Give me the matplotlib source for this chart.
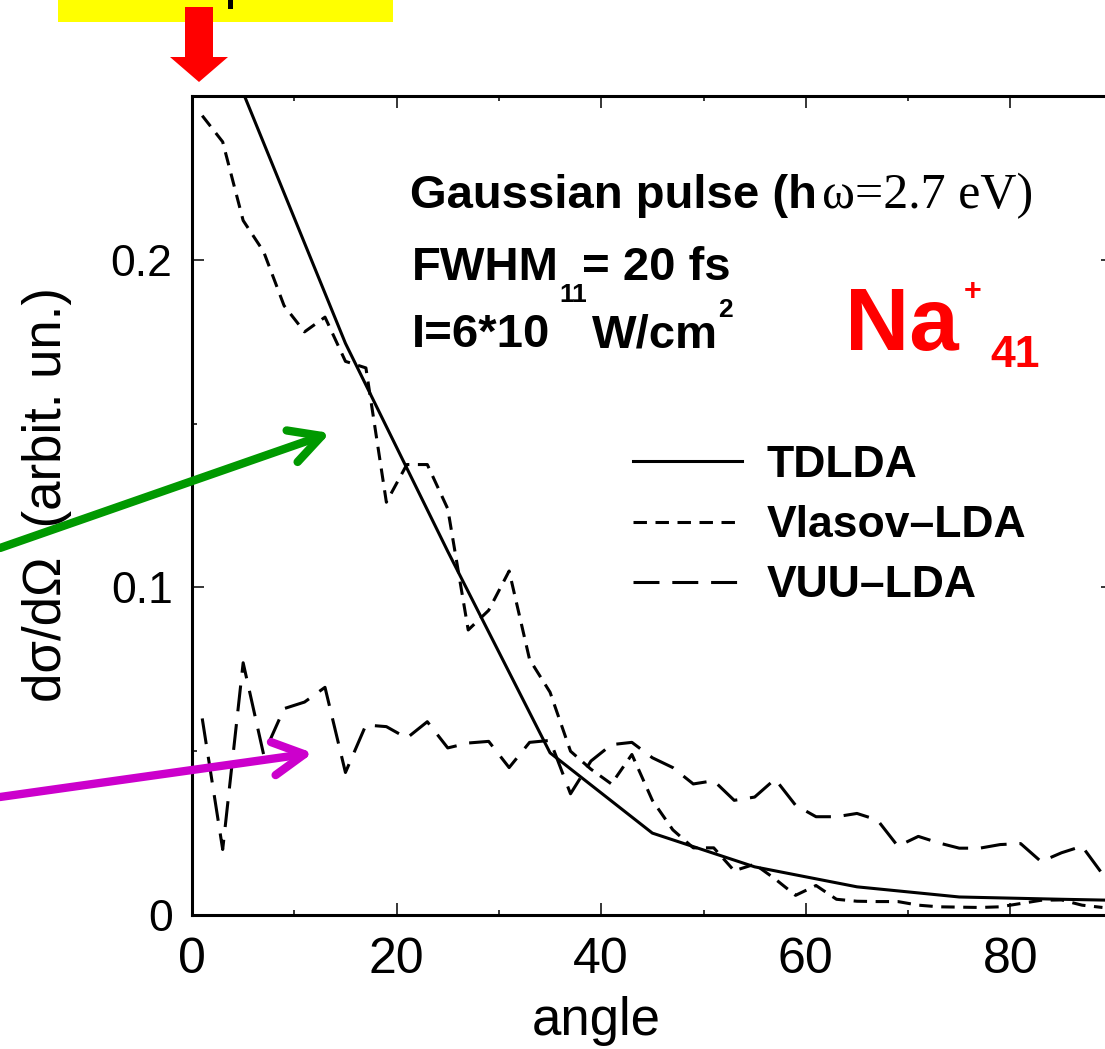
import matplotlib
matplotlib.use("Agg")
import matplotlib.pyplot as plt
from matplotlib.patches import Polygon, Rectangle, FancyArrowPatch
from matplotlib.ticker import MultipleLocator, FixedLocator

W, H = 1105, 1049

# angular distributions of emitted electrons
tdlda_angle = [5, 15, 25, 35, 45, 55, 65, 75, 85, 90]
tdlda = [0.251, 0.1745, 0.111, 0.0495, 0.025, 0.0147, 0.0086, 0.0055, 0.0048, 0.0045]

angle = list(range(1, 90, 2))
vlasov = [0.244, 0.236, 0.212, 0.2025, 0.186, 0.178, 0.1825, 0.169, 0.167, 0.126,
          0.1375, 0.1375, 0.124, 0.087, 0.093, 0.105, 0.078, 0.068, 0.050, 0.0445,
          0.040, 0.049, 0.035, 0.026, 0.0205, 0.0205, 0.0135, 0.0155, 0.011, 0.006,
          0.009, 0.0048, 0.0042, 0.0041, 0.0041, 0.003, 0.0025, 0.0024, 0.0023, 0.0025,
          0.0035, 0.0045, 0.0046, 0.003, 0.0023]
vuu = [0.060, 0.020, 0.077, 0.049, 0.063, 0.065, 0.0695, 0.0435, 0.058, 0.0575,
       0.054, 0.059, 0.051, 0.0525, 0.053, 0.045, 0.0527, 0.0533, 0.037, 0.047,
       0.052, 0.0527, 0.048, 0.045, 0.040, 0.041, 0.035, 0.036, 0.0415, 0.0335,
       0.030, 0.030, 0.031, 0.029, 0.021, 0.024, 0.022, 0.0204, 0.0204, 0.0215,
       0.0218, 0.0163, 0.019, 0.021, 0.0125]

labels = ["TDLDA", "Vlasov\u2013LDA", "VUU\u2013LDA"]


def fx(x):
    return x / W


def fy(y):
    return 1 - y / H


fig = plt.figure(figsize=(W / 100, H / 100), dpi=100)
ax = fig.add_axes([fx(192), fy(915), 920.7 / W, 819 / H])

ax.plot(tdlda_angle, tdlda, color="black", lw=2.2, label=labels[0])
ax.plot(angle, vlasov, color="black", lw=2.2, linestyle=(0, (4.4, 2.8)), label=labels[1])
ax.plot(angle, vuu, color="black", lw=2.2, linestyle=(0, (8.5, 4.2)), label=labels[2])

ax.set_xlim(0, 90)
ax.set_ylim(0, 0.25)
ax.xaxis.set_major_locator(MultipleLocator(20))
ax.xaxis.set_minor_locator(MultipleLocator(10))
ax.yaxis.set_major_locator(FixedLocator([0, 0.1, 0.2]))
ax.yaxis.set_minor_locator(FixedLocator([0.05, 0.15]))
ax.set_yticklabels(["0", "0.1", "0.2"])

for s in ax.spines.values():
    s.set_linewidth(2.2)
ax.tick_params(which="both", direction="in", top=True, right=True, width=1.1)
ax.tick_params(which="major", length=8.5)
ax.tick_params(which="minor", length=3.6)
ax.tick_params(axis="x", pad=16)
ax.tick_params(axis="y", pad=14)
for t in ax.get_xticklabels():
    t.set_fontfamily("Liberation Sans")
    t.set_fontsize(36)
for t in ax.get_yticklabels():
    t.set_fontfamily("Liberation Sans")
    t.set_fontsize(32)

fig.text(fx(596), fy(1035), "angle", fontsize=38, family="Liberation Sans",
         ha="center", va="baseline")
fig.text(fx(47), fy(495), "d\u03c3/d\u03a9  (arbit. un.)", fontsize=38,
         family="Liberation Sans", rotation=90, ha="center", va="center")

leg = ax.legend(loc="upper left", bbox_to_anchor=(fx(633), fy(445)),
                bbox_transform=fig.transFigure, frameon=False, borderpad=0,
                borderaxespad=0, handlelength=2.45, handletextpad=0.56,
                labelspacing=0.43,
                prop={"family": "Liberation Sans", "weight": "bold", "size": 32})

# pulse parameters
bold = dict(family="Liberation Sans", weight="bold", va="baseline", ha="left")
fig.text(fx(410), fy(208), "Gaussian pulse (h", fontsize=34, **bold)
fig.text(fx(822), fy(208), "\u03c9=2.7 eV)", fontsize=36, family="Liberation Serif",
         va="baseline", ha="left")
fig.text(fx(412), fy(280), "FWHM", fontsize=34, **bold)
fig.text(fx(582), fy(280), "= 20 fs", fontsize=34, **bold)
fig.text(fx(559), fy(302), "11", fontsize=19, **bold)
fig.text(fx(412), fy(347), "I=6*10", fontsize=34, **bold)
fig.text(fx(592), fy(347), "W/cm", fontsize=34, **bold)
fig.text(fx(718), fy(317), "2", fontsize=19, **bold)

# cluster label
red = dict(color="#ff0000", family="Liberation Sans", weight="bold", va="baseline", ha="left")
fig.text(fx(845), fy(350), "Na", fontsize=64, **red)
fig.text(fx(964), fy(300), "+", fontsize=22, **red)
fig.text(fx(990), fy(367), "41", fontsize=32, **red)

# header box and pointer arrow
fig.add_artist(Rectangle((fx(58), fy(22)), fx(335), 22 / H, transform=fig.transFigure,
                         facecolor="#ffff00", edgecolor="none"))
fig.add_artist(Rectangle((fx(228), fy(9)), fx(5), 9 / H, transform=fig.transFigure,
                         facecolor="black", edgecolor="none"))
arrow_pts = [(185, 7), (213, 7), (213, 57), (228, 57), (199, 82), (170, 57), (185, 57)]
fig.add_artist(Polygon([(fx(x), fy(y)) for x, y in arrow_pts], closed=True,
                       transform=fig.transFigure, facecolor="#ff0000", edgecolor="none"))

for (x0, y0), (x1, y1), c in [((0, 548), (330, 433), "#009900"),
                              ((0, 797), (313, 753), "#cc00cc")]:
    fig.add_artist(FancyArrowPatch((fx(x0), fy(y0)), (fx(x1), fy(y1)),
                                   transform=fig.transFigure,
                                   arrowstyle="->,head_length=0.75,head_width=0.4",
                                   mutation_scale=30, lw=6, color=c,
                                   capstyle="round", joinstyle="round",
                                   shrinkA=0, shrinkB=0))

fig.savefig("out.png", dpi=100)
